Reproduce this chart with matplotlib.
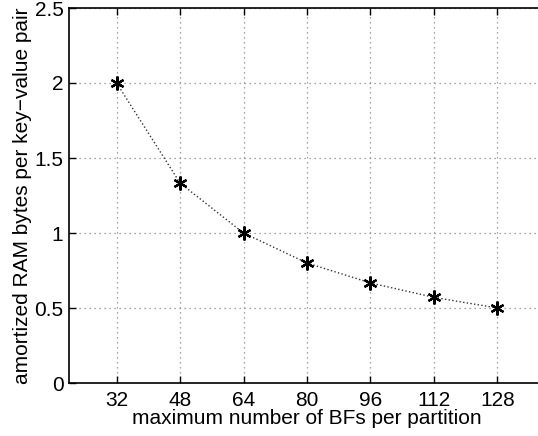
import matplotlib
matplotlib.use("Agg")
import matplotlib.pyplot as plt

plt.rcParams['font.family'] = ['Liberation Sans', 'DejaVu Sans']

# data
max_bfs = [32, 48, 64, 80, 96, 112, 128]
ram_bytes = [2.0, 1.333, 1.0, 0.8, 0.667, 0.571, 0.5]
x_ticks = [32, 48, 64, 80, 96, 112, 128]
y_ticks = [0, 0.5, 1, 1.5, 2, 2.5]

fig = plt.figure(figsize=(5.38, 4.36), dpi=100)
# axes runs a bit past the right edge, like the cropped original
ax = fig.add_axes([69 / 538, 53 / 436, 476 / 538, 375 / 436])

ax.plot(max_bfs, ram_bytes, linestyle=':', color='#333333', linewidth=1.0,
        marker=(6, 2, 0), markersize=10, markeredgewidth=1.6,
        markeredgecolor='black', markerfacecolor='black')

ax.set_xlim(20, 140)
ax.set_ylim(0, 2.5)
ax.set_xticks(x_ticks)
ax.set_yticks(y_ticks)
ax.set_yticklabels(['0', '0.5', '1', '1.5', '2', '2.5'])
ax.tick_params(direction='in', top=True, right=True, labelsize=15, length=5, width=1)
ax.tick_params(axis='x', pad=6)
ax.tick_params(axis='y', pad=4)
ax.grid(True, linestyle=(0, (1, 3)), color='#888888', linewidth=0.9)

for s in ax.spines.values():
    s.set_linewidth(1.2)

ax.set_xlabel('maximum number of BFs per partition', fontsize=15, labelpad=-1)
ax.set_ylabel('amortized RAM bytes per key\u2212value pair', fontsize=15, labelpad=2)

fig.savefig('out.png', dpi=100)
